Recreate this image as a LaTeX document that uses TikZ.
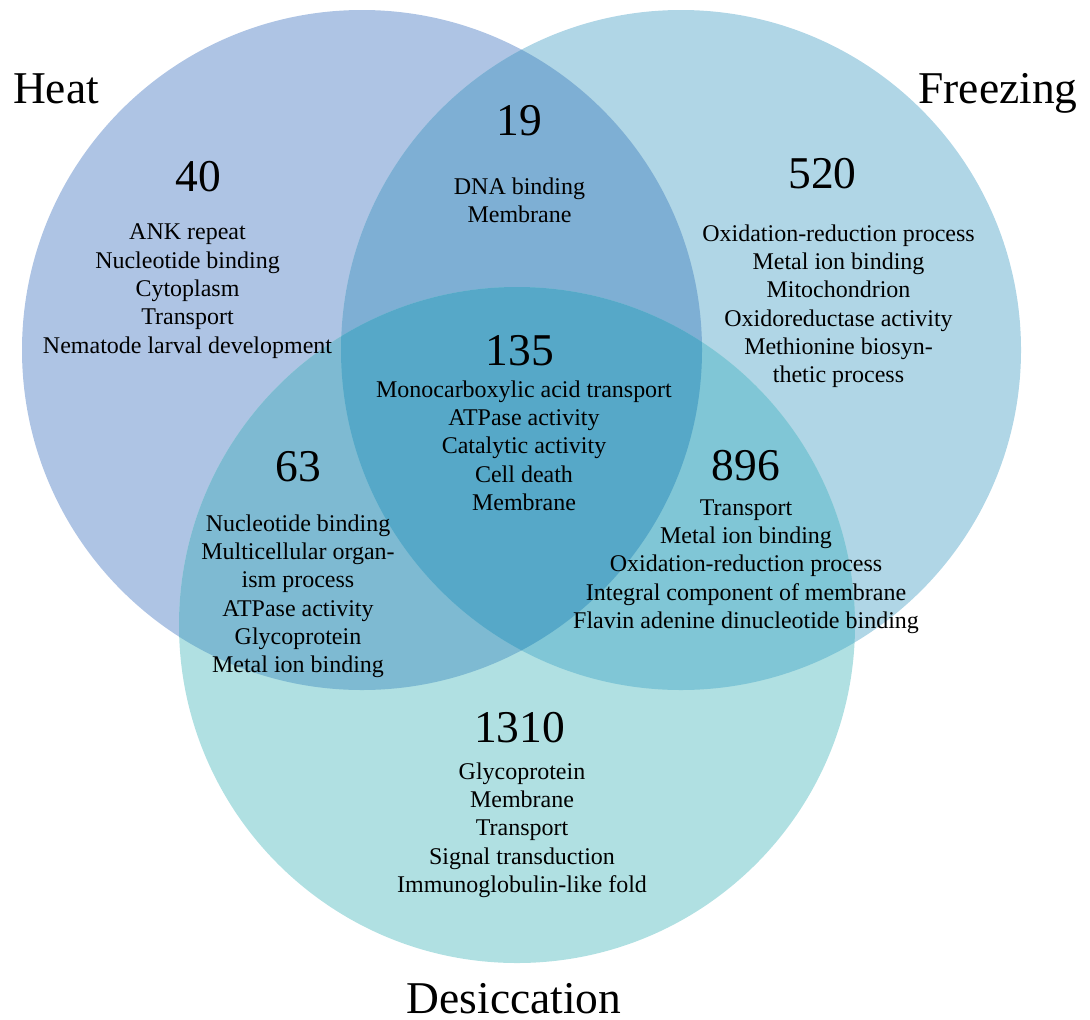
\documentclass[tikz,border=0pt]{standalone}
\usepackage{fontspec}
\setmainfont{Liberation Serif}
\definecolor{heatfill}{RGB}{174,196,228}
\definecolor{freezefill}{RGB}{176,214,230}
\definecolor{desicfill}{RGB}{176,224,226}
\definecolor{hffill}{RGB}{126,175,212}
\definecolor{hdfill}{RGB}{126,186,210}
\definecolor{fdfill}{RGB}{128,198,214}
\definecolor{hfdfill}{RGB}{86,168,200}

\begin{document}
\begin{tikzpicture}[scale=0.17]
	\tikzstyle{every node}+=[inner sep=0pt]
	\tikzstyle{setname}=[font=\fontsize{22}{26}\selectfont, anchor=base]
	\tikzstyle{setcount}=[font=\fontsize{22}{26}\selectfont, anchor=base]
	\tikzstyle{termlist}=[font=\fontsize{11.6}{13.7}\selectfont, align=center, anchor=north]
	\useasboundingbox (0,0) rectangle (109,-101.9);
	% the three sets
	\fill [heatfill] (36.2,-35) circle (34);
	\fill [freezefill] (68.1,-35) circle (34);
	\fill [desicfill] (51.7,-62.5) circle (33.8);
	% pairwise overlaps
	\begin{scope}
		\clip (36.2,-35) circle (34);
		\fill [hffill] (68.1,-35) circle (34);
	\end{scope}
	\begin{scope}
		\clip (36.2,-35) circle (34);
		\fill [hdfill] (51.7,-62.5) circle (33.8);
	\end{scope}
	\begin{scope}
		\clip (68.1,-35) circle (34);
		\fill [fdfill] (51.7,-62.5) circle (33.8);
	\end{scope}
	% all three
	\begin{scope}
		\clip (36.2,-35) circle (34);
		\clip (68.1,-35) circle (34);
		\fill [hfdfill] (51.7,-62.5) circle (33.8);
	\end{scope}
	% set names
	\draw (5.6,-10.33) node [setname] (heatname) {Heat};
	\draw (99.8,-10.33) node [setname] (freezename) {Freezing};
	\draw (51.4,-101.3) node [setname] (desicname) {Desiccation};
	% heat only
	\draw (19.85,-19.17) node [setcount] (hcount) {40};
	\draw (18.75,-22.35) node [termlist] (hterms) {ANK repeat\\Nucleotide binding\\Cytoplasm\\Transport\\Nematode larval development};
	% heat and freezing
	\draw (51.9,-13.5) node [setcount] (hfcount) {19};
	\draw (51.95,-17.7) node [termlist] (hfterms) {DNA binding\\Membrane};
	% freezing only
	\draw (82.25,-18.83) node [setcount] (fcount) {520};
	\draw (83.85,-22.4) node [termlist] (fterms) {Oxidation-reduction process\\Metal ion binding\\Mitochondrion\\Oxidoreductase activity\\Methionine biosyn-\\thetic process};
	% all three
	\draw (52.0,-36.5) node [setcount] (hfdcount) {135};
	\draw (52.4,-38.0) node [termlist] (hfdterms) {Monocarboxylic acid transport\\ATPase activity\\Catalytic activity\\Cell death\\Membrane};
	% heat and desiccation
	\draw (29.8,-48.1) node [setcount] (hdcount) {63};
	\draw (29.8,-51.4) node [termlist] (hdterms) {Nucleotide binding\\Multicellular organ-\\ism process\\ATPase activity\\Glycoprotein\\Metal ion binding};
	% freezing and desiccation
	\draw (74.6,-48.0) node [setcount] (fdcount) {896};
	\draw (74.6,-49.9) node [termlist] (fdterms) {Transport\\Metal ion binding\\Oxidation-reduction process\\Integral component of membrane\\Flavin adenine dinucleotide binding};
	% desiccation only
	\draw (51.95,-74.2) node [setcount] (dcount) {1310};
	\draw (52.2,-76.2) node [termlist] (dterms) {Glycoprotein\\Membrane\\Transport\\Signal transduction\\Immunoglobulin-like fold};
\end{tikzpicture}
\end{document}
